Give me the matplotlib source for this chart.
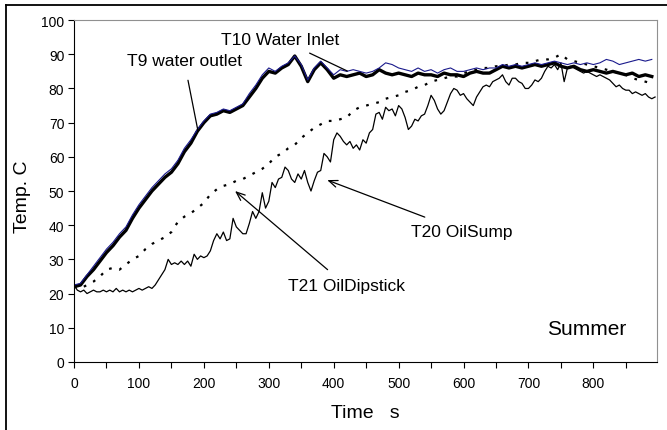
import matplotlib
matplotlib.use("Agg")
import matplotlib.pyplot as plt
import numpy as np
from matplotlib.lines import Line2D

plt.rcParams['font.family'] = ['Liberation Sans', 'DejaVu Sans']

# T9 water outlet (thick black), sampled every 10 s
t9 = [22, 22.5, 25, 27, 29.5, 32, 34, 36.5, 38.5, 42,
      45, 47.5, 50, 52, 54, 55.5, 58, 61.5, 64, 67.5,
      70, 72, 72.5, 73.5, 73, 74, 75, 77.5, 80, 83,
      85, 84.5, 86, 87, 89.5, 86.5, 82, 85.5, 87.5, 85.5,
      83, 84, 83.5, 84, 84.5, 83.5, 84, 85.5, 84.5, 84,
      84.5, 84, 83.5, 84.5, 84, 84, 83.5, 84.5, 84, 84,
      83.5, 84.5, 85, 84.5, 84.5, 85.5, 86.5, 86, 86.5, 86,
      86.5, 87, 86.5, 87, 87.5, 86.5, 86, 86.5, 85.5, 85,
      85.5, 85, 84.5, 85, 84.5, 84, 84.5, 83.5, 84, 83.5]

# T10 Water Inlet (thin blue), sampled every 10 s
t10 = [22.5, 23, 25.5, 28, 30.5, 33, 35, 37.5, 39.5, 43,
       46, 48.5, 51, 53, 55, 56.5, 59, 62.5, 65, 68,
       70.5, 72.5, 73, 74, 73.5, 74.5, 75.5, 78.5, 81, 84,
       86, 85, 86.5, 87.5, 89.5, 87, 82.5, 86, 88, 86,
       84, 85.5, 85, 85.5, 85, 84.5, 85, 86, 87.5, 87,
       86, 85.5, 85, 86, 85, 85.5, 84.5, 85.5, 86, 85,
       85, 85.5, 86, 85.5, 86, 86, 87, 86.5, 87, 86.5,
       87, 87.5, 87, 87.5, 88, 87.5, 87, 87.5, 87, 87.5,
       87, 87.5, 88.5, 88, 87, 87.5, 88, 88.5, 88, 88.5]

# T20 OilSump (thin black), sampled every 5 s
t20 = [22.5, 21, 20.5, 21, 20, 20.5, 21, 20.5, 20.5, 21, 20.5, 21, 20.5, 21.5, 20.5, 21, 20.5, 21, 20.5, 21,
       21.5, 21, 21.5, 22, 21.5, 22.5, 24, 25.5, 27, 30, 28.5, 29, 28.5, 29.5, 28.5, 29.5, 28, 31.5, 30, 31,
       30.5, 31, 32.5, 35.5, 37.5, 36, 38, 35.5, 36, 42, 39.5, 38.5, 37.5, 37.5, 40.5, 44, 42, 44, 49.5, 45,
       47, 52.5, 51, 53.5, 54, 57, 56, 53.5, 52.5, 55, 53.5, 56, 52.5, 50, 53, 55.5, 56, 61, 60, 58.5,
       65, 67, 66, 64.5, 63.5, 64.5, 62.5, 63.5, 62, 65, 64, 67, 68, 72.5, 73, 71, 74.5, 73.5, 74, 72,
       75, 74, 71.5, 68, 69, 71, 70.5, 72, 72.5, 75, 78, 76.5, 74, 72.5, 73.5, 76, 78.5, 80, 79.5, 78,
       78.5, 77, 76, 75, 77.5, 79, 80.5, 81, 80.5, 82, 82.5, 83, 84, 82, 81, 83, 83, 82, 81.5, 80,
       80, 81, 82.5, 82, 83, 85, 86.5, 86, 87, 85.5, 87.5, 82, 86, 86.5, 86, 85.5, 85, 84.5, 85, 84.5,
       84, 83.5, 84, 83.5, 83, 82.5, 81.5, 80.5, 81, 80, 79.5, 79.5, 78.5, 79, 78.5, 78, 78.5, 77.5, 77, 77.5]

# T21 OilDipstick (dotted), sampled every 10 s
t21 = [22, 21.5, 22.5, 23.5, 25, 27, 27.5, 27, 28.5, 30,
       31, 33, 34.5, 35.5, 36.5, 38, 41, 42.5, 43.5, 45,
       46.5, 49, 50.5, 51.5, 52, 53, 53.5, 54.5, 55.5, 56.5,
       58, 60, 61, 62.5, 63.5, 65.5, 67, 68.5, 69.5, 70.5,
       70.5, 71, 71.5, 73.5, 74.5, 75, 75.5, 76, 77, 77.5,
       78, 79, 79.5, 80.5, 81, 82, 82.5, 83, 83.5, 83.5,
       84.5, 85, 85.5, 86, 86, 86.5, 86.5, 87, 87, 87.5,
       87.5, 88, 88.5, 88.5, 89, 90, 88.5, 88, 87.5, 87,
       86.5, 86, 85.5, 85, 84.5, 84, 83, 82.5, 82, 81.5]

time10 = np.arange(len(t9)) * 10
time5 = np.arange(len(t20)) * 5

fig = plt.figure(figsize=(6.67, 4.31), dpi=100)
ax = fig.add_axes([0.111, 0.158, 0.874, 0.793])

ax.plot(time10, t21, color='black', lw=1.6, ls=(0, (1.2, 3.5)))
ax.plot(time5, t20, color='black', lw=0.9)
ax.plot(time10, t9, color='black', lw=2.4)
ax.plot(time10, t10, color='#1a1a8c', lw=0.8)

ax.set_xlim(0, 898)
ax.set_ylim(0, 100)
ax.set_xticks(np.arange(0, 851, 50))
ax.set_xticklabels([str(v) if v % 100 == 0 else '' for v in range(0, 851, 50)])
ax.set_yticks(np.arange(0, 101, 10))
ax.tick_params(direction='out', length=4, width=0.8, labelsize=10, pad=3)
ax.tick_params(axis='x', pad=6)

for s in ['top', 'right']:
    ax.spines[s].set_color('#909090')
for s in ['left', 'bottom']:
    ax.spines[s].set_color('black')

ax.set_xlabel('Time   s', fontsize=14)
ax.xaxis.set_label_coords(0.5, -0.123)
ax.set_ylabel('Temp. C', fontsize=14)
ax.yaxis.set_label_coords(-0.074, 0.485)

ax.annotate('T10 Water Inlet', xy=(421, 85.1), xytext=(318, 94.4),
            ha='center', va='center', fontsize=12.5,
            arrowprops=dict(arrowstyle='-', color='black', lw=0.9, shrinkA=6, shrinkB=0))
ax.annotate('T9 water outlet', xy=(191, 67.5), xytext=(169.5, 88.2),
            ha='center', va='center', fontsize=12.5,
            arrowprops=dict(arrowstyle='-', color='black', lw=0.9, shrinkA=7, shrinkB=0))
ax.annotate('T21 OilDipstick', xy=(248, 50), xytext=(419, 22.4),
            ha='center', va='center', fontsize=12.5,
            arrowprops=dict(arrowstyle='->,head_length=0.5,head_width=0.2', color='black',
                            lw=0.9, shrinkA=6, shrinkB=0))
ax.annotate('T20 OilSump', xy=(390, 53.2), xytext=(598, 38.2),
            ha='center', va='center', fontsize=12.5,
            arrowprops=dict(arrowstyle='->,head_length=0.5,head_width=0.2', color='black',
                            lw=0.9, shrinkA=8, shrinkB=0))
ax.text(789, 9.9, 'Summer', ha='center', va='center', fontsize=15)

# outer frame (left and top edges only are visible)
fig.add_artist(Line2D([0.009, 0.009], [0, 0.985], color='black', lw=1.3, transform=fig.transFigure))
fig.add_artist(Line2D([0.009, 1.0], [0.985, 0.985], color='black', lw=1.3, transform=fig.transFigure))

fig.savefig('out.png', dpi=100)
